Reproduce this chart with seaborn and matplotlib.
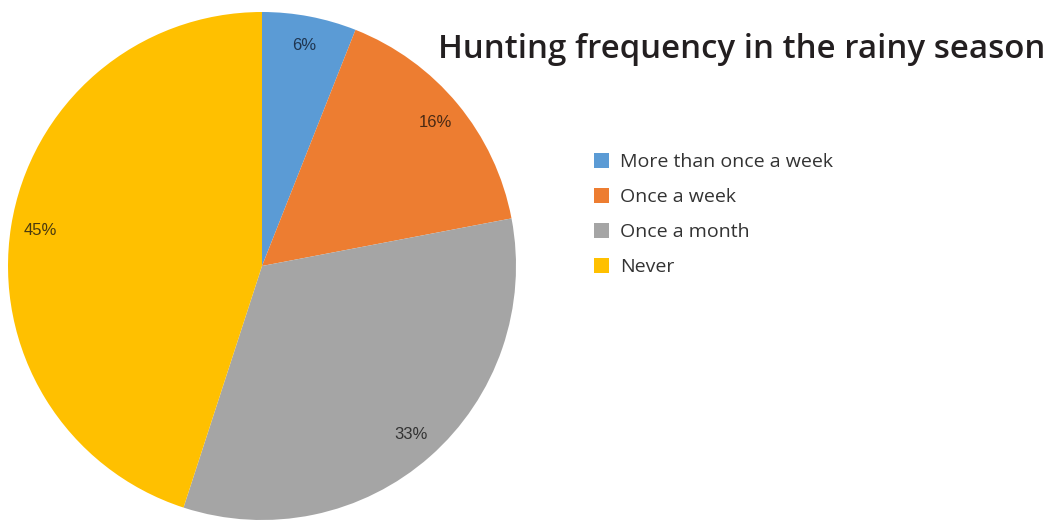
import matplotlib
matplotlib.use("Agg")
import matplotlib.pyplot as plt
import seaborn as sns
from matplotlib.patches import Patch

# Survey shares of hunting frequency during the rainy season
categories = ["More than once a week", "Once a week", "Once a month", "Never"]
shares = [6, 16, 33, 45]
slice_colors = ["#5B9BD5", "#ED7D31", "#A5A5A5", "#FFC000"]
label_colors = ["#1F3550", "#4A2A14", "#333333", "#4A3A10"]
title = "Hunting frequency in the rainy season"

sns.set_theme(style="white")
plt.rcParams["font.family"] = ["Open Sans", "DejaVu Sans"]

W, H = 1048, 522
fig = plt.figure(figsize=(W / 100, H / 100), dpi=100)
fig.patch.set_facecolor("white")

# Pie centred at (262, 266) px with radius 254 px
cx, cy, r = 262, 266, 254
ax = fig.add_axes([(cx - r) / W, (H - cy - r) / H, 2 * r / W, 2 * r / H])

wedges, texts = ax.pie(
    shares,
    colors=slice_colors,
    startangle=90,
    counterclock=False,
    labels=[f"{v}%" for v in shares],
    labeldistance=0.885,
    wedgeprops=dict(linewidth=0, antialiased=True),
    textprops=dict(fontsize=12, fontfamily=["Liberation Sans", "DejaVu Sans"]),
)
for t, c in zip(texts, label_colors):
    t.set_color(c)
    t.set_horizontalalignment("center")
    t.set_verticalalignment("center")
for w in wedges:
    w.set_clip_on(False)
ax.set_xlim(-1, 1)
ax.set_ylim(-1, 1)
ax.set_aspect("equal")
ax.axis("off")

fig.text(438 / W, 1 - 58 / H, title, fontsize=23.8, color="#231F20",
         ha="left", va="baseline", fontweight="semibold")

handles = [Patch(facecolor=c, edgecolor="none") for c in slice_colors]
fig.legend(
    handles, categories,
    loc="upper left",
    bbox_to_anchor=(576 / W, 1 - 135 / H),
    frameon=False,
    fontsize=14,
    handlelength=0.82,
    handleheight=0.82,
    handletextpad=0.55,
    labelspacing=0.86,
    labelcolor="#333333",
)

fig.savefig("out.png", dpi=100, facecolor="white")
